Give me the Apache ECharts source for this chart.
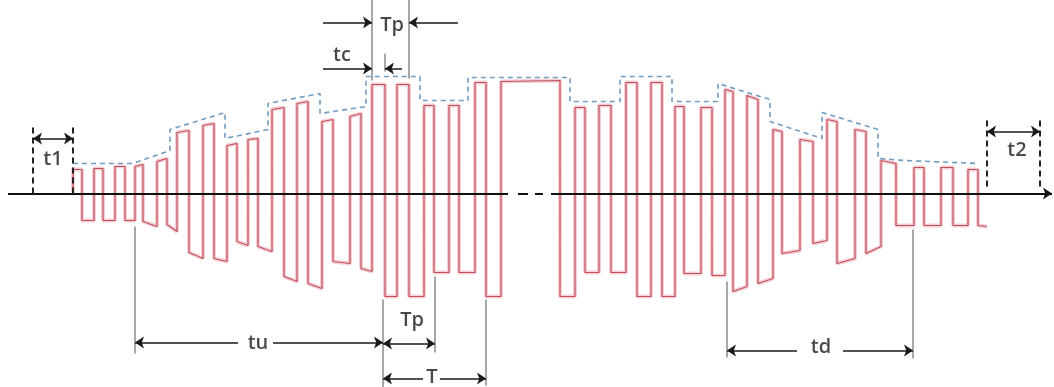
<!DOCTYPE html>
<html>
<head>
<meta charset="utf-8">
<script src="https://cdn.jsdelivr.net/npm/echarts@6/dist/echarts.min.js"></script>
<style>
  html, body { margin: 0; padding: 0; background: #fff; }
  #chart { width: 1054px; height: 387px; }
</style>
</head>
<body>
<div id="chart"></div>
<script>
// pulse train: rise time, fall time and the top / bottom levels of each pulse
const riseT = [73, 94, 115, 135, 157, 177, 203, 227, 248, 272, 297, 322, 350, 372, 397, 424, 449, 475,
  501, 575, 599, 626, 651, 675, 701, 725, 747, 773, 800, 827, 855, 881, 914, 941, 968]
const fallT = [82, 103, 125, 143, 167, 189, 214, 237, 258, 284, 308, 333, 361, 385, 409, 434, 459, 486,
  560, 585, 611, 637, 662, 684, 712, 733, 758, 782, 813, 837, 866, 896, 924, 953, 978]
const waveEnd = 987
const topL = [24, 25, 27, 27, 32, 61, 68, 48, 54, 84, 90, 72, 77, 109, 109, 88, 88, 111,
  112, 86, 88, 111, 111, 87, 86, 104, 98, 64, 54, 74, 64, 33, 26, 26, 24]
const topR = [24, 25, 27, 29, 35, 63, 70, 50, 55, 86, 92, 74, 80, 109, 109, 88, 88, 111,
  113, 86, 88, 111, 111, 87, 86, 102, 94, 62, 52, 72, 62, 30, 26, 26, 24]
const botL = [-27, -27, -27, -28, -31, -59, -65, -48, -53, -83, -90, -68, -75, -103, -103, -79, -79, -103,
  -103, -79, -79, -103, -103, -80, -82, -98, -90, -60, -50, -70, -60, -32, -32, -32, -32]
const botR = [-27, -27, -27, -33, -38, -65, -68, -52, -58, -88, -95, -70, -78, -103, -103, -79, -79, -103,
  -103, -79, -79, -103, -103, -80, -82, -93, -85, -57, -47, -65, -53, -32, -32, -32, -33]

// dashed envelope over the pulse tops
const envX = [73, 133, 170, 170, 225, 225, 268, 268, 320, 320, 366, 366, 420, 420, 468, 468,
  570, 570, 620, 620, 672, 672, 718, 718, 770, 770, 822, 822, 878, 878, 905, 978]
const envY = [30, 30, 43, 64, 81, 55, 64, 90, 100, 80, 87, 117, 117, 93, 93, 116,
  116, 92, 92, 117, 117, 92, 92, 110, 94, 72, 55, 81, 64, 35, 33, 30]

// time axis (solid, broken in the middle)
const axisSolid = [[[8, 0], [508, 0]], [[518, 0], [528, 0]], [[535, 0], [543, 0]]]
const axisLast = [[551, 0], [1052, 0]]

// interval markers
const markDashed = [[[33, 0], [33, 70]], [[73, 0], [73, 70]], [[987, 7], [987, 77]], [[1040, 7], [1040, 77]]]
const markGuides = [
  [[135, -33], [135, -160]], [[383, -106], [383, -194]], [[435, -83], [435, -159]],
  [[486, -106], [486, -192]], [[727, -88], [727, -164]], [[913, -36], [913, -165]],
  [[372, 194], [372, 113]], [[409, 194], [409, 115]], [[385, 140], [385, 122]]
]
const arrowsOne = [
  [[323, 171], [372, 171]], [[458, 171], [409, 171]],
  [[323, 125], [372, 125]], [[402, 125], [385, 125]],
  [[238, -149], [135, -149]], [[273, -149], [383, -149]],
  [[423, -185], [383, -185]], [[440, -185], [486, -185]],
  [[797, -157], [727, -157]], [[843, -157], [913, -157]]
]
const arrowsTwo = [[[33, 55], [73, 55]], [[987, 62], [1040, 62]], [[383, -150], [435, -150]]]

const labelNames = ['t1', 't2', 'Tp', 'tc', 'tu', 'Tp', 'T', 'td']
const labelX = [53, 1017, 392, 342, 258, 412, 432, 821]
const labelY = [34, 43, 168, 138, -150, -127, -184, -154]

function buildWave() {
  const pts = [[riseT[0], 0]]
  for (let i = 0; i < riseT.length; i++) {
    const next = i + 1 < riseT.length ? riseT[i + 1] : waveEnd
    pts.push([riseT[i], topL[i]], [fallT[i], topR[i]], [fallT[i], botL[i]], [next, botR[i]])
  }
  return pts
}

function toLines(list) {
  return list.map(c => ({ coords: c }))
}

const wave = buildWave()
const envelope = envX.map((x, i) => [x, envY[i]])
const labels = labelNames.map((n, i) => ({ name: n, value: [labelX[i], labelY[i]] }))

const chart = echarts.init(document.getElementById('chart'), null, { renderer: 'canvas' })

chart.setOption({
  animation: false,
  backgroundColor: '#ffffff',
  grid: { left: 0, right: 0, top: 0, bottom: 0 },
  xAxis: { type: 'value', min: 0, max: 1054, show: false },
  yAxis: { type: 'value', min: -193.5, max: 193.5, show: false },
  series: [
    // soft pink halo under the pulse line
    {
      type: 'line', data: wave, showSymbol: false, silent: true, z: 2,
      lineStyle: { color: '#f6d0d4', width: 4 }
    },
    {
      type: 'line', data: wave, showSymbol: false, silent: true, z: 3,
      lineStyle: { color: '#c04f5b', width: 1.2 }
    },
    {
      type: 'line', data: envelope, showSymbol: false, silent: true, z: 4,
      lineStyle: { color: '#6f9cc0', width: 1.6, type: [5, 4] }
    },
    {
      type: 'lines', coordinateSystem: 'cartesian2d', silent: true, z: 5,
      data: toLines(axisSolid),
      lineStyle: { color: '#111', width: 2, opacity: 1 }
    },
    {
      type: 'lines', coordinateSystem: 'cartesian2d', silent: true, z: 5,
      data: toLines([axisLast]),
      symbol: ['none', 'arrow'], symbolSize: 9,
      lineStyle: { color: '#111', width: 2, opacity: 1 }
    },
    {
      type: 'lines', coordinateSystem: 'cartesian2d', silent: true, z: 5,
      data: toLines(markDashed),
      lineStyle: { color: '#222', width: 2, type: [6, 4], opacity: 1 }
    },
    {
      type: 'lines', coordinateSystem: 'cartesian2d', silent: true, z: 5,
      data: toLines(markGuides),
      lineStyle: { color: '#8a8a8a', width: 1.5, opacity: 1 }
    },
    {
      type: 'lines', coordinateSystem: 'cartesian2d', silent: true, z: 6,
      data: toLines(arrowsOne),
      symbol: ['none', 'arrow'], symbolSize: 9,
      lineStyle: { color: '#1a1a1a', width: 1.5, opacity: 1 }
    },
    {
      type: 'lines', coordinateSystem: 'cartesian2d', silent: true, z: 6,
      data: toLines(arrowsTwo),
      symbol: ['arrow', 'arrow'], symbolSize: 9,
      lineStyle: { color: '#1a1a1a', width: 1.5, opacity: 1 }
    },
    {
      type: 'scatter', data: labels, symbolSize: 0, silent: true, z: 7,
      label: {
        show: true, position: 'inside', formatter: '{b}',
        color: '#1a1a1a', fontSize: 20, fontWeight: 600, fontFamily: 'Open Sans',
        align: 'center', verticalAlign: 'middle'
      }
    }
  ]
})
</script>
</body>
</html>
